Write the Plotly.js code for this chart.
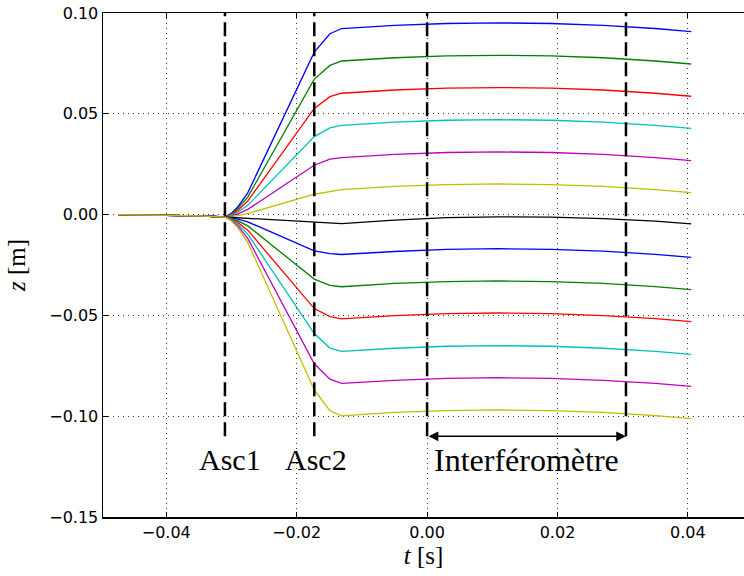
<!DOCTYPE html>
<html>
<head>
<meta charset="utf-8">
<script src="https://cdn.plot.ly/plotly-3.0.1.min.js"></script>
<style>html,body{margin:0;padding:0;background:#fff;}</style>
</head>
<body>
<div id="chart" style="width:744px;height:576px;"></div>
<script>
// time samples (s)
const t = [-0.0474, -0.039, -0.035, -0.031, -0.030, -0.029, -0.0275, -0.0173, -0.0149, -0.0131, -0.005, 0.003, 0.011, 0.019, 0.027, 0.035, 0.0405];

// z (m) for each trajectory
const zBlueUp    = [0, -0.0003, -0.0006, -0.0012, 0.0007, 0.0039, 0.0108, 0.0806, 0.0897, 0.0923, 0.0939, 0.0948, 0.0951, 0.0948, 0.0939, 0.0923, 0.0908];
const zGreenUp   = [0, -0.0003, -0.0006, -0.0012, 0.0003, 0.0031, 0.0087, 0.0672, 0.0740, 0.0762, 0.0778, 0.0787, 0.0790, 0.0787, 0.0778, 0.0762, 0.0747];
const zRedUp     = [0, -0.0003, -0.0006, -0.0012, 0.0000, 0.0022, 0.0067, 0.0527, 0.0585, 0.0602, 0.0618, 0.0627, 0.0630, 0.0627, 0.0618, 0.0602, 0.0587];
const zCyanUp    = [0, -0.0003, -0.0006, -0.0012, -0.0003, 0.0013, 0.0046, 0.0387, 0.0430, 0.0443, 0.0459, 0.0468, 0.0471, 0.0468, 0.0459, 0.0443, 0.0428];
const zMagentaUp = [0, -0.0003, -0.0006, -0.0012, -0.0006, 0.0004, 0.0026, 0.0245, 0.0275, 0.0283, 0.0299, 0.0308, 0.0311, 0.0308, 0.0299, 0.0283, 0.0268];
const zYellowUp  = [0, -0.0003, -0.0006, -0.0012, -0.0009, -0.0005, 0.0005, 0.0101, 0.0114, 0.0124, 0.0140, 0.0149, 0.0152, 0.0149, 0.0140, 0.0124, 0.0109];
const zBlack     = [0, -0.0003, -0.0006, -0.0012, -0.0014, -0.0016, -0.0020, -0.0040, -0.0045, -0.0045, -0.0027, -0.0015, -0.0011, -0.0013, -0.0020, -0.0032, -0.0046];
const zBlueDn    = [0, -0.0003, -0.0006, -0.0012, -0.0016, -0.0022, -0.0036, -0.0180, -0.0194, -0.0198, -0.0183, -0.0172, -0.0169, -0.0172, -0.0181, -0.0197, -0.0212];
const zGreenDn   = [0, -0.0003, -0.0006, -0.0012, -0.0019, -0.0031, -0.0056, -0.0320, -0.0351, -0.0358, -0.0341, -0.0332, -0.0329, -0.0332, -0.0341, -0.0357, -0.0372];
const zRedDn     = [0, -0.0003, -0.0006, -0.0012, -0.0022, -0.0040, -0.0077, -0.0466, -0.0506, -0.0517, -0.0501, -0.0491, -0.0488, -0.0491, -0.0501, -0.0516, -0.0531];
const zCyanDn    = [0, -0.0003, -0.0006, -0.0012, -0.0025, -0.0049, -0.0097, -0.0590, -0.0662, -0.0678, -0.0663, -0.0653, -0.0650, -0.0653, -0.0663, -0.0678, -0.0693];
const zMagentaDn = [0, -0.0003, -0.0006, -0.0012, -0.0029, -0.0057, -0.0118, -0.0740, -0.0816, -0.0837, -0.0822, -0.0812, -0.0809, -0.0812, -0.0822, -0.0837, -0.0852];
const zYellowDn  = [0, -0.0003, -0.0006, -0.0012, -0.0032, -0.0066, -0.0138, -0.0870, -0.0973, -0.0998, -0.0981, -0.0972, -0.0969, -0.0972, -0.0981, -0.0997, -0.1012];

const seriesZ = [zBlueUp, zGreenUp, zRedUp, zCyanUp, zMagentaUp, zYellowUp, zBlack,
                 zBlueDn, zGreenDn, zRedDn, zCyanDn, zMagentaDn, zYellowDn];
const seriesColors = ['#0000ff', '#008000', '#ff0000', '#00bfbf', '#bf00bf', '#bfbf00', '#000000',
                      '#0000ff', '#008000', '#ff0000', '#00bfbf', '#bf00bf', '#bfbf00'];

// event markers
const eventTimes = [-0.031, -0.0173, 0.0, 0.0305];
const eventBottom = -0.11;
const eventTop = 0.10;
const labels = ['Asc1', 'Asc2', 'Interféromètre'];
const labelX = [-0.0302, -0.0171, 0.0152];
const labelSize = [30, 30, 32];
const labelY = -0.1215;
const interfStart = 0.0;
const interfEnd = 0.0305;

const xTicks = [-0.04, -0.02, 0.00, 0.02, 0.04];
const yTicks = [-0.15, -0.10, -0.05, 0.00, 0.05, 0.10];

const traces = seriesZ.map((z, i) => ({
  x: t, y: z, type: 'scatter', mode: 'lines',
  line: {color: seriesColors[i], width: 1.3},
  hoverinfo: 'skip'
}));

const shapes = eventTimes.map(tv => ({
  type: 'line', xref: 'x', yref: 'y',
  x0: tv, x1: tv, y0: eventBottom, y1: eventTop,
  line: {color: '#000', width: 2.5, dash: '14px,6px'},
  layer: 'above'
}));

const serif = 'Liberation Serif, Times New Roman, serif';
const annotations = labels.map((s, i) => ({
  x: labelX[i], y: labelY, xref: 'x', yref: 'y',
  text: s, showarrow: false,
  font: {family: serif, size: labelSize[i], color: '#000'},
  xanchor: 'center', yanchor: 'middle'
}));
annotations.push({
  x: interfEnd, y: eventBottom, ax: interfStart, ay: eventBottom,
  xref: 'x', yref: 'y', axref: 'x', ayref: 'y',
  text: '', showarrow: true, arrowhead: 2, startarrowhead: 2,
  arrowside: 'end+start', arrowsize: 1.3, startarrowsize: 1.3,
  arrowwidth: 1.5, arrowcolor: '#000', standoff: 0, startstandoff: 0
});

const layout = {
  width: 744, height: 576,
  margin: {l: 103, r: 0, t: 13, b: 59},
  paper_bgcolor: '#fff', plot_bgcolor: '#fff',
  showlegend: false,
  font: {family: 'DejaVu Sans', size: 16, color: '#000'},
  xaxis: {
    range: [-0.0497, 0.0486],
    tickvals: xTicks, tickformat: '.2f',
    ticks: 'inside', ticklen: 5, tickwidth: 1, tickcolor: '#000',
    showline: true, linecolor: '#000', linewidth: 1.5, mirror: 'ticks',
    showgrid: true, gridcolor: '#333', gridwidth: 1, griddash: '1px,4px',
    zeroline: false,
    tickfont: {family: 'DejaVu Sans', size: 16},
    title: {text: '<i>t</i> [s]', font: {family: serif, size: 25}, standoff: 4}
  },
  yaxis: {
    range: [-0.15, 0.10],
    tickvals: yTicks, tickformat: '.2f',
    ticks: 'inside', ticklen: 5, tickwidth: 1, tickcolor: '#000',
    showline: true, linecolor: '#000', linewidth: 1.5, mirror: false,
    showgrid: true, gridcolor: '#333', gridwidth: 1, griddash: '1px,4px',
    zeroline: false,
    tickfont: {family: 'DejaVu Sans', size: 16},
    title: {text: '<i>z</i> [m]', font: {family: serif, size: 25}, standoff: 16}
  },
  shapes: shapes,
  annotations: annotations
};

Plotly.newPlot('chart', traces, layout, {displayModeBar: false, staticPlot: true});
</script>
</body>
</html>
